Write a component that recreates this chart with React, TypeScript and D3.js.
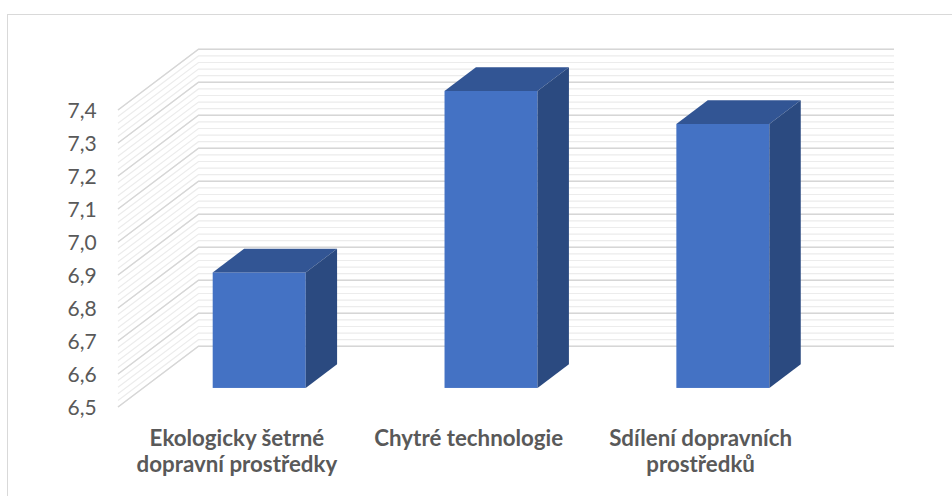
import React from "react";
import * as d3 from "d3";

const categories: string[][] = [
  ["Ekologicky šetrné", "dopravní prostředky"],
  ["Chytré technologie"],
  ["Sdílení dopravních", "prostředků"],
];
const values: number[] = [6.85, 7.4, 7.3];
const yTicks: number[] = [6.5, 6.6, 6.7, 6.8, 6.9, 7.0, 7.1, 7.2, 7.3, 7.4];
const yMin = 6.5;
const yMax = 7.4;

const W = 952;
const H = 496;

// oblique 3D projection
const X0 = 118; // front-left floor x
const Y0 = 407; // front floor y for yMin
const DX = 80.5; // full depth x
const DY = -60.7; // full depth y
const BACK_RIGHT = 894;
const BAR_FRONT = 0.314; // depth fraction of bar front plane
const BAR_DEPTH = 0.39; // depth fraction of bar thickness
const BAR_W = 93;

const fmt = (v: number) => d3.format(".1f")(v).replace(".", ",");

export default function App() {
  const hScale = d3.scaleLinear().domain([yMin, yMax]).range([0, 297]);
  const xBand = d3
    .scaleBand<number>()
    .domain(categories.map((_, i) => i))
    .range([X0, BACK_RIGHT - DX])
    .paddingInner(0)
    .paddingOuter(0);

  const minorTicks = hScale.ticks(45);
  const gridLine = (v: number) => {
    const yf = Y0 - hScale(v);
    return `M${X0},${yf}L${X0 + DX},${yf + DY}L${BACK_RIGHT},${yf + DY}`;
  };

  const bdx = BAR_DEPTH * DX;
  const bdy = BAR_DEPTH * DY;
  const textColor = "#595959";

  return (
    <div style={{ position: "absolute", left: 0, top: 0 }}>
      <svg width={W} height={H} style={{ display: "block", background: "#fff" }}>
        <rect x={7.5} y={14.5} width={1000} height={600} fill="#fff" stroke="#d9d9d9" strokeWidth={1} />
        <g fill="none">
          {minorTicks.map((t, i) => (
            <path key={"m" + i} d={gridLine(t)} stroke="#ececec" strokeWidth={1.2} />
          ))}
          {yTicks.map((t, i) => (
            <path key={"M" + i} d={gridLine(t)} stroke="#d6d6d6" strokeWidth={1.4} />
          ))}
        </g>
        <g fontFamily="Lato, 'Open Sans', sans-serif" fontSize={21} fill={textColor}>
          {yTicks.map((t, i) => (
            <text key={i} x={96.7} y={Y0 - hScale(t) + 8} textAnchor="end">
              {fmt(t)}
            </text>
          ))}
        </g>
        <g>
          {values.map((v, i) => {
            const cx = (xBand(i) as number) + xBand.bandwidth() / 2 + BAR_FRONT * DX;
            const xl = cx - BAR_W / 2;
            const xr = cx + BAR_W / 2;
            const yb = Y0 + BAR_FRONT * DY;
            const yt = yb - hScale(v);
            return (
              <g key={i}>
                <rect x={xl} y={yt} width={BAR_W} height={yb - yt} fill="#4472c4" />
                <polygon
                  points={`${xl},${yt} ${xr},${yt} ${xr + bdx},${yt + bdy} ${xl + bdx},${yt + bdy}`}
                  fill="#325594"
                />
                <polygon
                  points={`${xr},${yt} ${xr + bdx},${yt + bdy} ${xr + bdx},${yb + bdy} ${xr},${yb}`}
                  fill="#2b4a80"
                />
              </g>
            );
          })}
        </g>
        <g fontFamily="Lato, 'Open Sans', sans-serif" fontSize={22.3} fontWeight="bold" fill={textColor} textAnchor="middle">
          {categories.map((lines, i) => {
            const cx = (xBand(i) as number) + xBand.bandwidth() / 2 + 3;
            return (
              <text key={i} x={cx} y={446}>
                {lines.map((l, j) => (
                  <tspan key={j} x={cx} y={446 + j * 25.7}>
                    {l}
                  </tspan>
                ))}
              </text>
            );
          })}
        </g>
      </svg>
    </div>
  );
}
